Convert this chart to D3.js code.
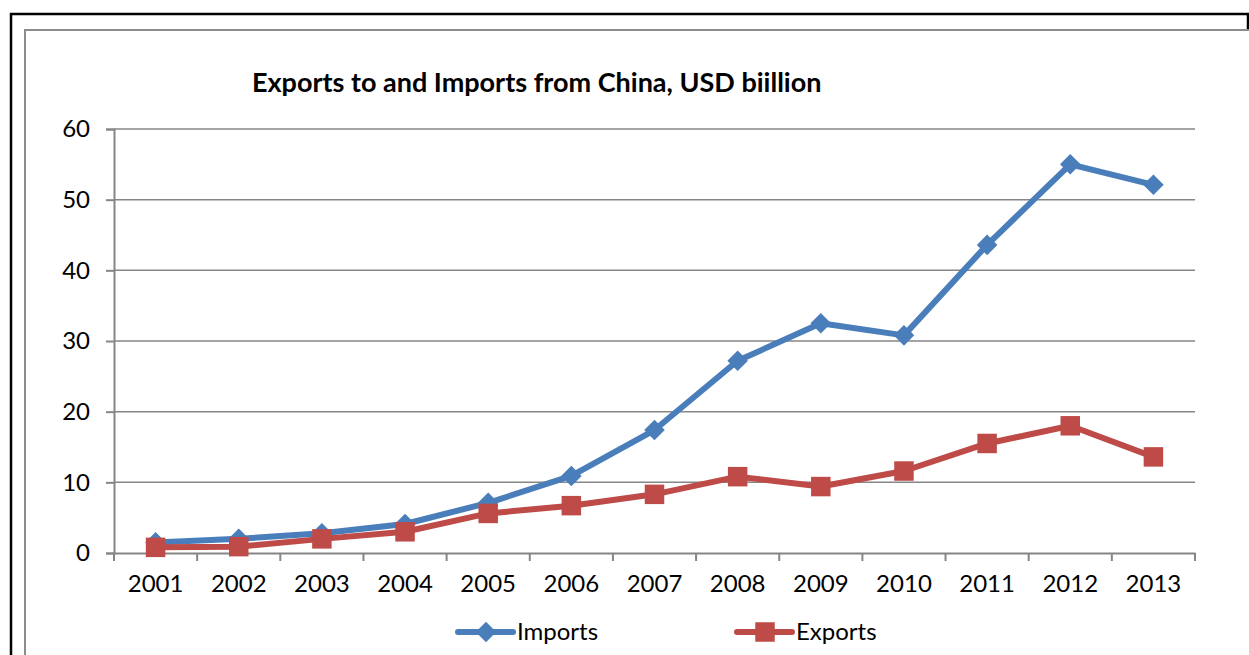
<!DOCTYPE html>
<html>
<head>
<meta charset="utf-8">
<script src="https://cdn.jsdelivr.net/npm/d3@7"></script>
<style>
  body { margin: 0; background: #fff; }
  text { font-family: Lato, "Open Sans", sans-serif; fill: #000; }
</style>
</head>
<body>
<svg id="chart"></svg>
<script>
var years = ["2001","2002","2003","2004","2005","2006","2007","2008","2009","2010","2011","2012","2013"];
var imports = [1.5, 2.0, 2.8, 4.1, 7.1, 10.9, 17.4, 27.2, 32.5, 30.8, 43.6, 55.0, 52.1];
var exports = [0.8, 0.9, 2.0, 3.0, 5.6, 6.7, 8.3, 10.8, 9.4, 11.6, 15.5, 18.0, 13.6];
var yTicks = [0, 10, 20, 30, 40, 50, 60];

var W = 1249, H = 655;
var svg = d3.select("#chart").attr("width", W).attr("height", H);

// outer frame and chart box
svg.append("rect").attr("x", 11).attr("y", 14).attr("width", 1237).attr("height", 700)
  .attr("fill", "none").attr("stroke", "#000").attr("stroke-width", 2.5);
svg.append("rect").attr("x", 25).attr("y", 30).attr("width", 1300).attr("height", 700)
  .attr("fill", "#fff").attr("stroke", "#8c8c8c").attr("stroke-width", 2);

var x = d3.scaleBand().domain(years).range([114, 1195]);
var y = d3.scaleLinear().domain([0, 60]).range([553, 129]);

// gridlines
svg.append("g").selectAll("line").data(yTicks.slice(1)).enter().append("line")
  .attr("x1", 114).attr("x2", 1195)
  .attr("y1", function(d) { return y(d); }).attr("y2", function(d) { return y(d); })
  .attr("stroke", "#868686").attr("stroke-width", 1.5);

// y axis
var yAxis = svg.append("g").attr("transform", "translate(114,0)")
  .call(d3.axisLeft(y).tickValues(yTicks).tickSize(8).tickPadding(16));
yAxis.selectAll("text").style("font-size", "24px");

// x axis, ticks between the categories
var xAxis = svg.append("g").attr("transform", "translate(0,553)")
  .call(d3.axisBottom(x).tickSize(0).tickPadding(22));
xAxis.selectAll("text").style("font-size", "24px");
var bounds = years.map(function(d) { return x(d); }).concat([x.range()[1]]);
xAxis.selectAll(".bt").data(bounds).enter().append("line").attr("class", "bt")
  .attr("x1", function(d) { return d; }).attr("x2", function(d) { return d; })
  .attr("y1", 0).attr("y2", 8);
svg.selectAll(".domain, .tick line, .bt").attr("stroke", "#868686").attr("stroke-width", 2);

var cx = function(d, i) { return x(years[i]) + x.bandwidth() / 2; };
var line = d3.line().x(cx).y(function(d) { return y(d); });

var blue = "#4a7ebb", red = "#be4b48";

svg.append("path").datum(imports).attr("d", line)
  .attr("fill", "none").attr("stroke", blue).attr("stroke-width", 6).attr("stroke-linejoin", "round");
svg.append("path").datum(exports).attr("d", line)
  .attr("fill", "none").attr("stroke", red).attr("stroke-width", 6).attr("stroke-linejoin", "round");

var diamond = d3.symbol().type(d3.symbolDiamond2).size(270);
var square = d3.symbol().type(d3.symbolSquare).size(380);

svg.append("g").selectAll("path").data(imports).enter().append("path")
  .attr("d", diamond)
  .attr("transform", function(d, i) { return "translate(" + cx(d, i) + "," + y(d) + ")"; })
  .attr("fill", blue);
svg.append("g").selectAll("path").data(exports).enter().append("path")
  .attr("d", square)
  .attr("transform", function(d, i) { return "translate(" + cx(d, i) + "," + y(d) + ")"; })
  .attr("fill", red);

// title
svg.append("text").attr("x", 252).attr("y", 92)
  .style("font-size", "27px").style("font-weight", "bold")
  .text("Exports to and Imports from China, USD biillion");

// legend
var legend = [
  {name: "Imports", color: blue, sym: diamond, x: 458},
  {name: "Exports", color: red, sym: square, x: 737}
];
var lg = svg.append("g").selectAll("g").data(legend).enter().append("g")
  .attr("transform", function(d) { return "translate(" + d.x + ",632)"; });
lg.append("line").attr("x1", 0).attr("x2", 55).attr("y1", 0).attr("y2", 0)
  .attr("stroke", function(d) { return d.color; }).attr("stroke-width", 6).attr("stroke-linecap", "round");
lg.append("path").attr("d", function(d) { return d.sym(); })
  .attr("transform", "translate(28,0)").attr("fill", function(d) { return d.color; });
lg.append("text").attr("x", 59).attr("y", 0).attr("dy", "0.35em")
  .style("font-size", "24px").text(function(d) { return d.name; });
</script>
</body>
</html>
